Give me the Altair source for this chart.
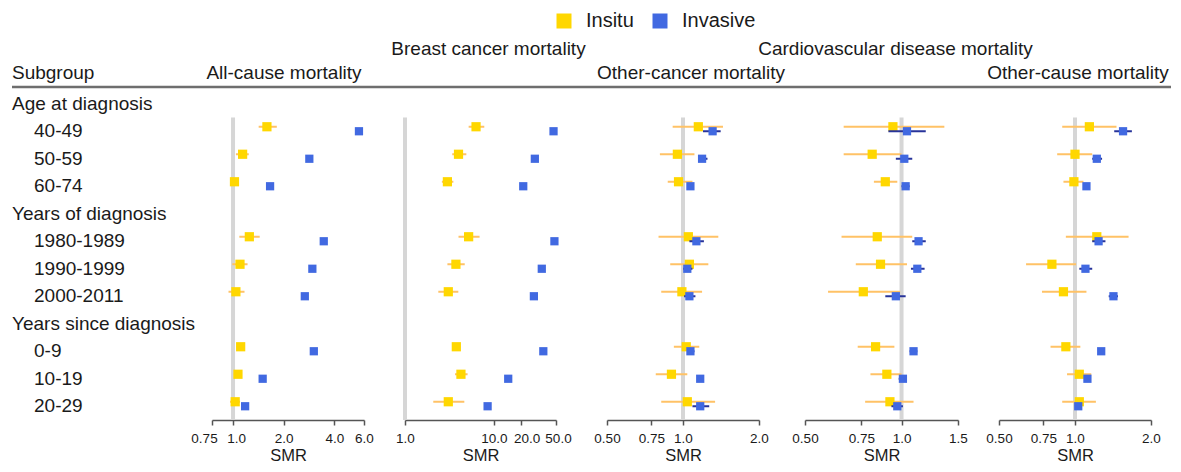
import altair as alt
import pandas as pd

# ---------------- data ----------------
rows = ["Age at diagnosis", "40-49", "50-59", "60-74",
        "Years of diagnosis", "1980-1989", "1990-1999", "2000-2011",
        "Years since diagnosis", "0-9", "10-19", "20-29"]
header_rows = ["Age at diagnosis", "Years of diagnosis", "Years since diagnosis"]
subgroups = ["40-49", "50-59", "60-74", "1980-1989", "1990-1999", "2000-2011",
             "0-9", "10-19", "20-29"]
types = ["Insitu", "Invasive"]

panel_titles = ["All-cause mortality", "Breast cancer mortality", "Other-cancer mortality",
                "Cardiovascular disease mortality", "Other-cause mortality"]

domains = [[0.75, 6.0], [1.0, 50.0], [0.5, 2.0], [0.5, 1.5], [0.5, 2.0]]
tick_values = [[0.75, 1, 2, 4, 6], [1, 10, 20, 50], [0.5, 0.75, 1, 2],
               [0.5, 0.75, 1, 1.5], [0.5, 0.75, 1, 2]]
tick_labels = [["0.75", "1.0", "2.0", "4.0", "6.0"], ["1.0", "10.0", "20.0", "50.0"],
               ["0.50", "0.75", "1.0", "2.0"], ["0.50", "0.75", "1.0", "1.5"],
               ["0.50", "0.75", "1.0", "2.0"]]

# All-cause mortality
allcause_insitu = [1.59, 1.14, 1.02, 1.25, 1.10, 1.04, 1.11, 1.07, 1.03]
allcause_insitu_lo = [1.42, 1.04, 0.97, 1.09, 0.99, 0.94, 1.05, 1.01, 0.96]
allcause_insitu_hi = [1.82, 1.24, 1.07, 1.44, 1.22, 1.17, 1.17, 1.13, 1.10]
allcause_invasive = [5.60, 2.84, 1.66, 3.46, 2.96, 2.67, 3.02, 1.50, 1.18]
allcause_invasive_lo = [5.45, 2.78, 1.63, 3.38, 2.90, 2.61, 2.96, 1.47, 1.15]
allcause_invasive_hi = [5.75, 2.90, 1.69, 3.54, 3.02, 2.73, 3.08, 1.53, 1.21]

# Breast cancer mortality
breast_insitu = [6.3, 4.0, 3.0, 5.2, 3.74, 3.07, 3.78, 4.26, 3.07]
breast_insitu_lo = [5.2, 3.4, 2.6, 4.0, 3.0, 2.37, 3.4, 3.65, 2.08]
breast_insitu_hi = [7.8, 4.9, 3.5, 6.9, 4.7, 3.98, 4.2, 5.06, 4.65]
breast_invasive = [46.9, 28.9, 21.4, 48.0, 34.6, 28.2, 36.0, 14.5, 8.5]
breast_invasive_lo = [45.5, 28.0, 20.8, 46.5, 33.6, 27.4, 35.0, 14.0, 8.1]
breast_invasive_hi = [48.3, 29.8, 22.0, 49.4, 35.6, 29.0, 37.0, 15.0, 8.9]

# Other-cancer mortality
othercancer_insitu = [1.15, 0.95, 0.96, 1.05, 1.06, 0.99, 1.03, 0.90, 1.04]
othercancer_insitu_lo = [0.91, 0.81, 0.87, 0.80, 0.89, 0.82, 0.92, 0.78, 0.82]
othercancer_insitu_hi = [1.44, 1.11, 1.09, 1.38, 1.26, 1.19, 1.16, 1.04, 1.34]
othercancer_invasive = [1.31, 1.19, 1.07, 1.13, 1.04, 1.06, 1.07, 1.17, 1.17]
othercancer_invasive_lo = [1.20, 1.15, 1.04, 1.06, 1.00, 1.01, 1.04, 1.14, 1.09]
othercancer_invasive_hi = [1.41, 1.25, 1.10, 1.21, 1.09, 1.12, 1.11, 1.20, 1.27]

# Cardiovascular disease mortality
cardio_insitu = [0.94, 0.81, 0.89, 0.84, 0.86, 0.76, 0.83, 0.90, 0.92]
cardio_insitu_lo = [0.66, 0.66, 0.82, 0.65, 0.72, 0.59, 0.73, 0.80, 0.77]
cardio_insitu_hi = [1.36, 1.00, 0.97, 1.08, 1.04, 0.99, 0.95, 1.00, 1.09]
cardio_invasive = [1.04, 1.02, 1.03, 1.13, 1.12, 0.96, 1.09, 1.01, 0.97]
cardio_invasive_lo = [0.91, 0.96, 1.00, 1.08, 1.07, 0.89, 1.06, 0.98, 0.93]
cardio_invasive_hi = [1.19, 1.08, 1.06, 1.19, 1.18, 1.03, 1.12, 1.04, 1.01]

# Other-cause mortality
othercause_insitu = [1.14, 1.00, 0.99, 1.22, 0.81, 0.90, 0.92, 1.04, 1.04]
othercause_insitu_lo = [0.89, 0.85, 0.90, 0.92, 0.64, 0.74, 0.80, 0.93, 0.89]
othercause_insitu_hi = [1.46, 1.17, 1.08, 1.63, 1.01, 1.11, 1.05, 1.16, 1.21]
othercause_invasive = [1.55, 1.22, 1.11, 1.24, 1.10, 1.42, 1.27, 1.12, 1.03]
othercause_invasive_lo = [1.43, 1.17, 1.08, 1.17, 1.04, 1.36, 1.24, 1.09, 1.00]
othercause_invasive_hi = [1.68, 1.28, 1.14, 1.32, 1.17, 1.48, 1.30, 1.15, 1.06]

panel_data = [
    (allcause_insitu, allcause_insitu_lo, allcause_insitu_hi,
     allcause_invasive, allcause_invasive_lo, allcause_invasive_hi),
    (breast_insitu, breast_insitu_lo, breast_insitu_hi,
     breast_invasive, breast_invasive_lo, breast_invasive_hi),
    (othercancer_insitu, othercancer_insitu_lo, othercancer_insitu_hi,
     othercancer_invasive, othercancer_invasive_lo, othercancer_invasive_hi),
    (cardio_insitu, cardio_insitu_lo, cardio_insitu_hi,
     cardio_invasive, cardio_invasive_lo, cardio_invasive_hi),
    (othercause_insitu, othercause_insitu_lo, othercause_insitu_hi,
     othercause_invasive, othercause_invasive_lo, othercause_invasive_hi),
]

# ---------------- style / layout ----------------
FONT = "Liberation Sans"
TEXT = "#1a1a1a"
YELLOW = "#FFD700"
BLUE = "#4169E1"
ORANGE_CI = "#FFC266"
NAVY_CI = "#27339A"
REF = "#d6d6d6"
HEADER_LINE = "#6e6e6e"

H = 330
LABEL_W = 200
panel_widths = [152, 151, 152, 153, 152]
gaps = [41, 51, 46, 41]
title_levels = [-17, -41, -17, -41, -17]
title_dx = [-4, 8, 8, 14, 3]
LINE_Y = -3
LINE_END = LABEL_W + sum(panel_widths) + sum(gaps) + 20
# small horizontal nudges of crowded tick labels (style only)
label_nudges = [{0.75: -8, 1: 3}, {20: 6, 50: 2}, {}, {}, {}]

NOVIEW = alt.ViewBackground(stroke=None, strokeWidth=0)

one = pd.DataFrame({"k": [0]})

yscale = alt.Scale(domain=rows, paddingInner=0, paddingOuter=0)
color_scale = alt.Scale(domain=types, range=[YELLOW, BLUE])
legend = alt.Legend(orient="none", legendX=539, legendY=-82, direction="horizontal",
                    title=None, symbolType="square", symbolSize=225, padding=3,
                    symbolStrokeWidth=0, labelFontSize=20, labelFont=FONT,
                    labelColor=TEXT, labelOffset=12, columnPadding=16)


def js_key(v):
    return f"{v:g}"


def nudge(i):
    conds = [{"test": f"datum.value === {js_key(v)}", "value": d}
             for v, d in label_nudges[i].items()]
    if not conds:
        return 0
    return {"condition": conds, "value": 0}


def panel(i):
    w = panel_widths[i]
    ins, ins_lo, ins_hi, inv, inv_lo, inv_hi = panel_data[i]
    recs = []
    for j, g in enumerate(subgroups):
        recs.append({"row": g, "type": "Insitu", "smr": ins[j], "lo": ins_lo[j], "hi": ins_hi[j]})
        recs.append({"row": g, "type": "Invasive", "smr": inv[j], "lo": inv_lo[j], "hi": inv_hi[j]})
    df = pd.DataFrame(recs)

    mapping = ",".join(f"'{js_key(v)}':'{lab}'" for v, lab in zip(tick_values[i], tick_labels[i]))
    xaxis = alt.Axis(values=tick_values[i], labelExpr="{" + mapping + "}[datum.value + '']",
                     title="SMR", grid=False, domainColor="#555", tickColor="#555",
                     tickSize=5, labelFontSize=13.5, labelPadding=6, labelColor=TEXT,
                     labelFont=FONT, titleFont=FONT, titleFontSize=16.5,
                     titleFontWeight="normal", titleColor=TEXT, titlePadding=3,
                     labelOverlap=False, labelFlush=False, domainWidth=1.5, tickWidth=1.5,
                     labelOffset=nudge(i))
    xscale = alt.Scale(type="log", domain=domains[i], nice=False, zero=False)
    y = alt.Y("row:N", scale=yscale, axis=None)

    ref = alt.Chart(one).mark_rule(color=REF, strokeWidth=4).encode(
        x=alt.XDatum(1.0, type="quantitative", scale=xscale, axis=xaxis),
        y=alt.YDatum("40-49", type="nominal", scale=yscale, axis=None, bandPosition=0),
        y2=alt.value(H),
    )
    base = alt.Chart(df)
    ci_ins = base.transform_filter(alt.datum.type == "Insitu").mark_rule(
        color=ORANGE_CI, strokeWidth=2, yOffset=-4.5).encode(
        x=alt.X("lo:Q", scale=xscale, axis=xaxis), x2="hi:Q", y=y)
    sq_ins = base.transform_filter(alt.datum.type == "Insitu").mark_square(
        size=85, opacity=1, yOffset=-4.5).encode(
        x=alt.X("smr:Q", scale=xscale, axis=xaxis), y=y,
        color=alt.Color("type:N", scale=color_scale, legend=legend))
    ci_inv = base.transform_filter(alt.datum.type == "Invasive").mark_rule(
        color=NAVY_CI, strokeWidth=2).encode(
        x=alt.X("lo:Q", scale=xscale, axis=xaxis), x2="hi:Q", y=y)
    sq_inv = base.transform_filter(alt.datum.type == "Invasive").mark_square(
        size=68, opacity=1).encode(
        x=alt.X("smr:Q", scale=xscale, axis=xaxis), y=y,
        color=alt.Color("type:N", scale=color_scale, legend=legend))

    title = alt.Chart(pd.DataFrame({"t": [panel_titles[i]]})).mark_text(
        font=FONT, fontSize=19, color=TEXT, align="center", baseline="middle").encode(
        text="t:N", x=alt.value(w / 2 + title_dx[i]), y=alt.value(title_levels[i]))

    return alt.layer(title, ref, ci_ins, sq_ins, ci_inv, sq_inv).properties(
        width=w, height=H, view=NOVIEW)


def spacer(g):
    # empty gap column
    return alt.Chart(one).mark_text(text="", opacity=0).encode(
        x=alt.value(0), y=alt.value(0)).properties(width=g, height=H, view=NOVIEW)


# label column (also carries the header line across the whole table)
lab_df = pd.DataFrame({"row": rows, "is_header": [r in header_rows for r in rows]})
lab_base = alt.Chart(lab_df)
lab_head = lab_base.transform_filter("datum.is_header").mark_text(
    font=FONT, fontSize=19, color=TEXT, align="left", baseline="middle").encode(
    text="row:N", x=alt.value(0), y=alt.Y("row:N", scale=yscale, axis=None))
lab_sub = lab_base.transform_filter("!datum.is_header").mark_text(
    font=FONT, fontSize=19, color=TEXT, align="left", baseline="middle").encode(
    text="row:N", x=alt.value(22), y=alt.Y("row:N", scale=yscale, axis=None))
subgroup_title = alt.Chart(pd.DataFrame({"t": ["Subgroup"]})).mark_text(
    font=FONT, fontSize=19, color=TEXT, align="left", baseline="middle").encode(
    text="t:N", x=alt.value(0), y=alt.value(-17))
header_line = alt.Chart(one).mark_rule(color=HEADER_LINE, strokeWidth=2.5).encode(
    x=alt.value(0), x2=alt.value(LINE_END), y=alt.value(LINE_Y))
label_col = alt.layer(header_line, subgroup_title, lab_head, lab_sub).properties(
    width=LABEL_W, height=H, view=NOVIEW)

parts = [label_col]
for i in range(len(panel_widths)):
    parts.append(panel(i))
    if i < len(gaps):
        parts.append(spacer(gaps[i]))

chart = alt.hconcat(*parts, spacing=0, bounds="flush").resolve_scale(
    x="independent", color="shared"
).properties(
    padding={"left": 2, "top": 0, "right": 0, "bottom": 0}
).configure_view(stroke=None, strokeWidth=0).configure(background="white")

chart.save("out.html", embed_options={"renderer": "svg", "actions": False})
